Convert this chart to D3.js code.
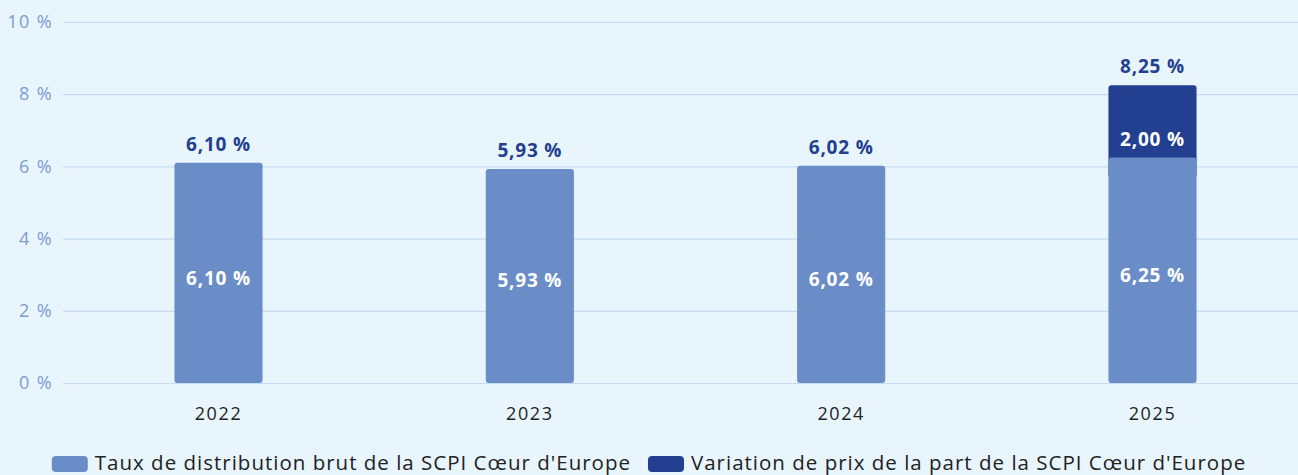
<!DOCTYPE html>
<html>
<head>
<meta charset="utf-8">
<script src="https://cdn.jsdelivr.net/npm/d3@7"></script>
<style>
  html, body { margin: 0; padding: 0; background: #e9f5fc; }
  svg { display: block; font-family: "Open Sans", "Noto Sans", sans-serif; }
</style>
</head>
<body>
<div class="content"></div>
<script>
var years = ['2022', '2023', '2024', '2025'];
var distribution = [6.10, 5.93, 6.02, 6.25];
var priceVariation = [0, 0, 0, 2.00];
var yTicks = [0, 2, 4, 6, 8, 10];
var seriesNames = ["Taux de distribution brut de la SCPI Cœur d'Europe",
                   "Variation de prix de la part de la SCPI Cœur d'Europe"];

var W = 1298, H = 475;
var lightColor = '#6a8dc7', darkColor = '#223f90';

var fmt = function (v) { return v.toFixed(2).replace('.', ',') + ' %'; };

var svg = d3.select('.content')
  .append('svg')
  .attr('width', W)
  .attr('height', H);

svg.append('rect').attr('width', W).attr('height', H).attr('fill', '#e9f5fc');

var y = d3.scaleLinear().domain([0, 10]).range([383, 22]);
var x = d3.scaleBand().domain(years).range([63, 1308]).paddingInner(0.717).paddingOuter(0.358);

// grid + y labels
var axis_y = svg.append('g')
  .attr('transform', 'translate(63,0)')
  .call(d3.axisLeft(y).tickValues(yTicks).tickSize(-1245).tickFormat(function (d) { return d + ' %'; }));
axis_y.select('.domain').remove();
axis_y.selectAll('line').attr('stroke', '#c6dbef').attr('stroke-width', 1.2);
axis_y.selectAll('text')
  .attr('x', -10)
  .attr('fill', '#7c9cd3')
  .style('font-size', '18px')
  .style('letter-spacing', '1.4px')
  .style('font-family', '"Open Sans", sans-serif');

// x labels
var axis_x = svg.append('g')
  .attr('transform', 'translate(0,383)')
  .call(d3.axisBottom(x).tickSize(0).tickPadding(24));
axis_x.select('.domain').remove();
axis_x.selectAll('text')
  .attr('fill', '#222')
  .style('font-size', '18px')
  .style('letter-spacing', '1.6px')
  .style('font-family', '"Open Sans", sans-serif');

var rows = years.map(function (yr, i) {
  return { year: yr, dist: distribution[i], vari: priceVariation[i] };
});

var bw = x.bandwidth();

// price variation segment (drawn behind, extending below the light bar)
svg.append('g').selectAll('rect')
  .data(rows.filter(function (d) { return d.vari > 0; }))
  .enter().append('rect')
  .attr('x', function (d) { return x(d.year); })
  .attr('y', function (d) { return y(d.dist + d.vari); })
  .attr('width', bw)
  .attr('height', function (d) { return y(d.dist) - y(d.dist + d.vari) + 20; })
  .attr('rx', 3)
  .attr('fill', darkColor);

// distribution bars
svg.append('g').selectAll('rect')
  .data(rows)
  .enter().append('rect')
  .attr('x', function (d) { return x(d.year); })
  .attr('y', function (d) { return y(d.dist); })
  .attr('width', bw)
  .attr('height', function (d) { return y(0) - y(d.dist); })
  .attr('rx', 3)
  .attr('fill', lightColor);

var labelStyle = function (sel, color) {
  sel.attr('text-anchor', 'middle')
    .attr('fill', color)
    .style('font-size', '19px')
    .style('font-weight', 700)
    .style('letter-spacing', '0.8px');
};

// inside labels
svg.append('g').selectAll('text')
  .data(rows)
  .enter().append('text')
  .attr('x', function (d) { return x(d.year) + bw / 2; })
  .attr('y', function (d) { return y(d.dist * 0.47) + 5; })
  .call(labelStyle, '#fff')
  .text(function (d) { return fmt(d.dist); });

svg.append('g').selectAll('text')
  .data(rows.filter(function (d) { return d.vari > 0; }))
  .enter().append('text')
  .attr('x', function (d) { return x(d.year) + bw / 2; })
  .attr('y', function (d) { return y(d.dist + d.vari * 0.25) + 7; })
  .call(labelStyle, '#fff')
  .text(function (d) { return fmt(d.vari); });

// totals above
svg.append('g').selectAll('text')
  .data(rows)
  .enter().append('text')
  .attr('x', function (d) { return x(d.year) + bw / 2; })
  .attr('y', function (d) { return y(d.dist + d.vari) - 12; })
  .call(labelStyle, darkColor)
  .text(function (d) { return fmt(d.dist + d.vari); });

// legend
var legend = svg.append('g').attr('class', 'legend');
var items = legend.selectAll('g')
  .data(seriesNames)
  .enter().append('g');
items.append('rect')
  .attr('width', 36).attr('height', 16).attr('rx', 4)
  .attr('y', 456)
  .attr('fill', function (d, i) { return i === 0 ? lightColor : darkColor; });
items.append('text')
  .attr('x', 43)
  .attr('y', 470)
  .attr('fill', '#222')
  .style('font-size', '20.5px')
  .style('letter-spacing', '1px')
  .text(function (d) { return d; });

var offset = 0;
var widths = [];
items.each(function () {
  widths.push(this.getBBox().width);
});
var total = d3.sum(widths) + 17;
offset = (W - total) / 2;
items.attr('transform', function (d, i) {
  var t = 'translate(' + offset + ',0)';
  offset += widths[i] + 17;
  return t;
});
</script>
</body>
</html>
